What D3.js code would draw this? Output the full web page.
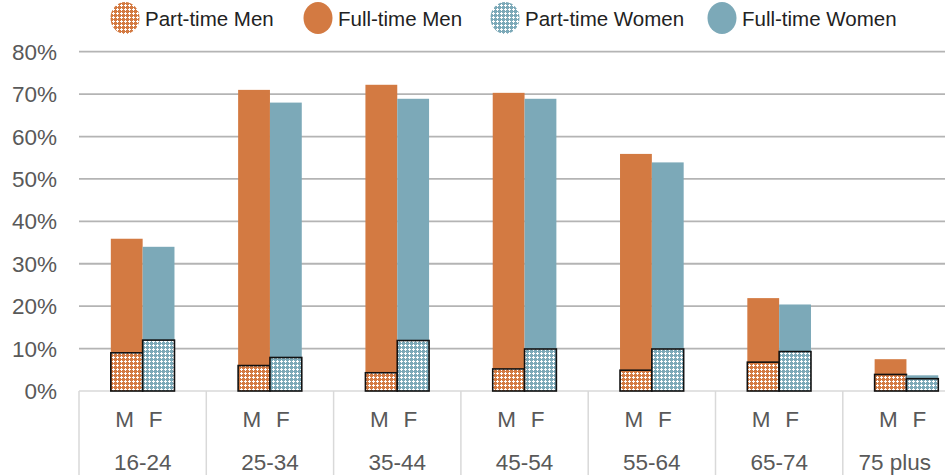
<!DOCTYPE html>
<html>
<head>
<meta charset="utf-8">
<script src="https://cdn.jsdelivr.net/npm/d3@7"></script>
<style>
  html, body { margin: 0; padding: 0; background: #fff; }
  svg { display: block; font-family: "Liberation Sans", Arial, sans-serif; }
</style>
</head>
<body>
<svg id="chart" width="945" height="475"></svg>
<script>
// Employment rate by age group, split into part-time and full-time work (%)
const ageGroups = ["16-24", "25-34", "35-44", "45-54", "55-64", "65-74", "75 plus"];
const partTimeMen   = [9.0, 6.0, 4.3, 5.2, 4.9, 6.8, 3.9];
const fullTimeMen   = [26.9, 65.0, 67.9, 65.1, 51.0, 15.1, 3.6];
const partTimeWomen = [12.0, 7.9, 11.9, 9.9, 9.9, 9.3, 2.9];
const fullTimeWomen = [22.0, 60.1, 57.0, 59.0, 44.0, 11.1, 0.8];
const sexLabels = ["M", "F"];
const yTicks = [0, 10, 20, 30, 40, 50, 60, 70, 80];
const legendLabels = ["Part-time Men", "Full-time Men", "Part-time Women", "Full-time Women"];

const W = 945, H = 475;
const ORANGE = "#d37a42", BLUE = "#7ca9b8";
const svg = d3.select("#chart");

// hatched fills for the part-time segments
const defs = svg.append("defs");
function makePattern(id, color) {
  const p = defs.append("pattern").attr("id", id)
    .attr("patternUnits", "userSpaceOnUse").attr("width", 4).attr("height", 4);
  p.append("rect").attr("width", 4).attr("height", 4).attr("fill", color);
  const g = p.append("g").attr("fill", "#fff").attr("shape-rendering", "crispEdges");
  [[1, 0], [0, 1], [1, 1], [2, 1], [1, 2]].forEach(([a, b]) =>
    g.append("rect").attr("x", a).attr("y", b).attr("width", 1).attr("height", 1));
}
makePattern("ptMen", ORANGE);
makePattern("ptWomen", BLUE);

const x = d3.scaleBand().domain(ageGroups).range([79, 79 + 127.3 * ageGroups.length]).padding(0);
const y = d3.scaleLinear().domain([0, 80]).range([391, 51.7]);
const barW = x.bandwidth() / 4;

// horizontal gridlines
svg.append("g").selectAll("line").data(yTicks.filter(t => t > 0)).join("line")
  .attr("x1", 79).attr("x2", W)
  .attr("y1", d => y(d)).attr("y2", d => y(d))
  .attr("stroke", "#b4b4b4").attr("stroke-width", 1.8);

// y tick labels
svg.append("g").selectAll("text").data(yTicks).join("text")
  .attr("x", 57).attr("y", d => y(d)).attr("dy", "0.36em")
  .attr("text-anchor", "end").attr("fill", "#595959").attr("font-size", 22.5)
  .text(d => d + "%");

// category table lines under the axis
const axisG = svg.append("g").attr("stroke", "#d9d9d9").attr("stroke-width", 1.5);
axisG.append("line").attr("x1", 79).attr("x2", W).attr("y1", y(0)).attr("y2", y(0));
axisG.selectAll("line.sep").data(ageGroups.concat(["end"])).join("line").attr("class", "sep")
  .attr("x1", (d, i) => 79 + i * x.step()).attr("x2", (d, i) => 79 + i * x.step())
  .attr("y1", y(0)).attr("y2", H);

// bars: one stacked column per sex in each age group
const series = [
  { sex: 0, pt: partTimeMen, ft: fullTimeMen, color: ORANGE, pat: "url(#ptMen)" },
  { sex: 1, pt: partTimeWomen, ft: fullTimeWomen, color: BLUE, pat: "url(#ptWomen)" }
];
series.forEach(s => {
  const g = svg.append("g");
  const bx = (d, i) => x(ageGroups[i]) + x.bandwidth() / 2 - barW + s.sex * barW;
  g.selectAll("rect.ft").data(ageGroups).join("rect").attr("class", "ft")
    .attr("x", bx).attr("width", barW)
    .attr("y", (d, i) => y(s.pt[i] + s.ft[i]))
    .attr("height", (d, i) => y(s.pt[i]) - y(s.pt[i] + s.ft[i]))
    .attr("fill", s.color);
  g.selectAll("rect.pt").data(ageGroups).join("rect").attr("class", "pt")
    .attr("x", bx).attr("width", barW)
    .attr("y", (d, i) => y(s.pt[i]))
    .attr("height", (d, i) => y(0) - y(s.pt[i]))
    .attr("fill", s.pat).attr("stroke", "#111").attr("stroke-width", 1.6);
});

// M / F labels and age group labels
const cats = svg.append("g").attr("fill", "#595959").attr("font-size", 22.5).attr("text-anchor", "middle");
ageGroups.forEach(a => {
  const cx = x(a) + x.bandwidth() / 2;
  sexLabels.forEach((s, j) => {
    cats.append("text").attr("x", cx + (j === 0 ? -18 : 13)).attr("y", 419).attr("dy", "0.36em").text(s);
  });
  const t = cats.append("text").attr("y", 462).attr("dy", "0.36em").text(a).attr("x", cx);
  const half = t.node().getComputedTextLength() / 2;
  if (cx + half > W - 14) t.attr("x", W - 14 - half);
});

// legend
const legendX = [125, 318, 505, 722];
const legendFill = [ "url(#ptMen)", ORANGE, "url(#ptWomen)", BLUE ];
const lg = svg.append("g");
legendLabels.forEach((l, i) => {
  lg.append("ellipse").attr("cx", legendX[i]).attr("cy", 18).attr("rx", 14.5).attr("ry", 16)
    .attr("fill", legendFill[i]);
  lg.append("text").attr("x", legendX[i] + 20).attr("y", 19).attr("dy", "0.36em")
    .attr("font-size", 20.5).attr("fill", "#222").text(l);
});
</script>
</body>
</html>
